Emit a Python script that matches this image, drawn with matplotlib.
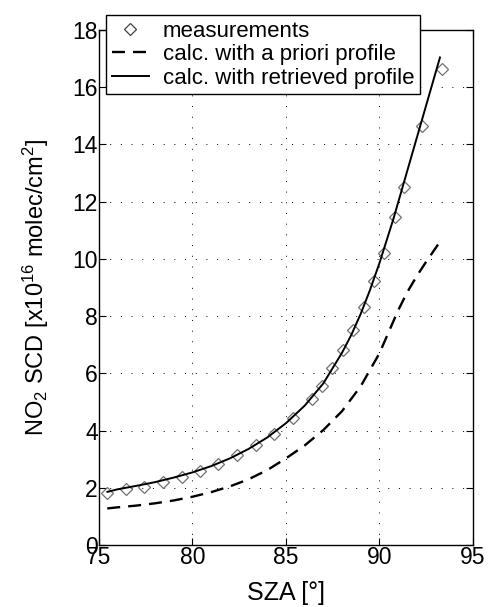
import numpy as np
import matplotlib
matplotlib.use("Agg")
import matplotlib.pyplot as plt

plt.rcParams['font.family'] = ['Liberation Sans', 'DejaVu Sans']
plt.rcParams['mathtext.default'] = 'regular'

# measured slant column densities
sza_meas = [75.41, 76.43, 77.42, 78.42, 79.42, 80.40, 81.38, 82.40, 83.38, 84.36,
            85.36, 86.37, 86.91, 87.48, 88.03, 88.60, 89.17, 89.72, 90.26, 90.83,
            91.33, 92.26, 93.33]
scd_meas = [1.81, 1.95, 2.04, 2.21, 2.39, 2.59, 2.83, 3.15, 3.50, 3.87,
            4.45, 5.10, 5.56, 6.20, 6.82, 7.52, 8.33, 9.23, 10.22, 11.47,
            12.51, 14.63, 16.63]

# calculated with retrieved profile
sza_ret = [75.45, 76, 77, 78, 79, 80, 81, 82, 83, 84, 85, 86, 87, 88, 88.5, 89,
           89.5, 90, 90.5, 90.75, 93.24]
scd_ret = [1.86, 1.95, 2.07, 2.20, 2.36, 2.54, 2.76, 3.03, 3.36, 3.76, 4.26, 4.87,
           5.65, 6.72, 7.35, 8.08, 8.92, 9.85, 10.88, 11.40, 17.04]

# calculated with a priori profile
sza_apr = [75.44, 76, 77, 78, 79, 80, 81, 82, 83, 84, 85, 86, 87, 88, 89, 90,
           90.5, 91, 91.5, 92, 92.5, 93.24]
scd_apr = [1.28, 1.32, 1.38, 1.46, 1.56, 1.69, 1.85, 2.05, 2.30, 2.62, 3.03, 3.48,
           4.02, 4.68, 5.55, 6.70, 7.45, 8.20, 8.85, 9.40, 9.90, 10.60]

fig = plt.figure(figsize=(4.89, 6.07), dpi=100)
ax = fig.add_axes([0.2025, 0.102, 0.7645, 0.8486])

ax.plot(sza_meas, scd_meas, 'D', mfc='none', mec='#707070', ms=6.5, mew=0.9,
        label='measurements')
ax.plot(sza_apr, scd_apr, 'k--', lw=1.7, dashes=(5.5, 3.4),
        label='calc. with a priori profile')
ax.plot(sza_ret, scd_ret, 'k-', lw=1.4, label='calc. with retrieved profile')

ax.set_xlim(75, 95)
ax.set_ylim(0, 18)
ax.set_xticks([75, 80, 85, 90, 95])
ax.set_yticks(range(0, 19, 2))
ax.tick_params(direction='in', top=True, right=True, labelsize=16.5, length=5, pad=1)
ax.grid(True, linestyle=(0, (1, 10)), color='k', lw=0.7)
for s in ax.spines.values():
    s.set_linewidth(1.0)

ax.set_xlabel('SZA [°]', fontsize=18, labelpad=8)
ax.set_ylabel('NO$_2$ SCD [x10$^{16}$ molec/cm$^2$]', fontsize=17, labelpad=15)

leg = ax.legend(loc='upper left', bbox_to_anchor=(106 / 489, 1 - 15 / 607),
                bbox_transform=fig.transFigure, fontsize=16, fancybox=False,
                framealpha=1, edgecolor='k', borderpad=0.25, labelspacing=0.12,
                handlelength=1.7, handletextpad=0.6, borderaxespad=0)
leg.get_frame().set_linewidth(1.0)
leg.legend_handles[0].set_markeredgecolor('#404040')

fig.savefig('out.png', dpi=100)
